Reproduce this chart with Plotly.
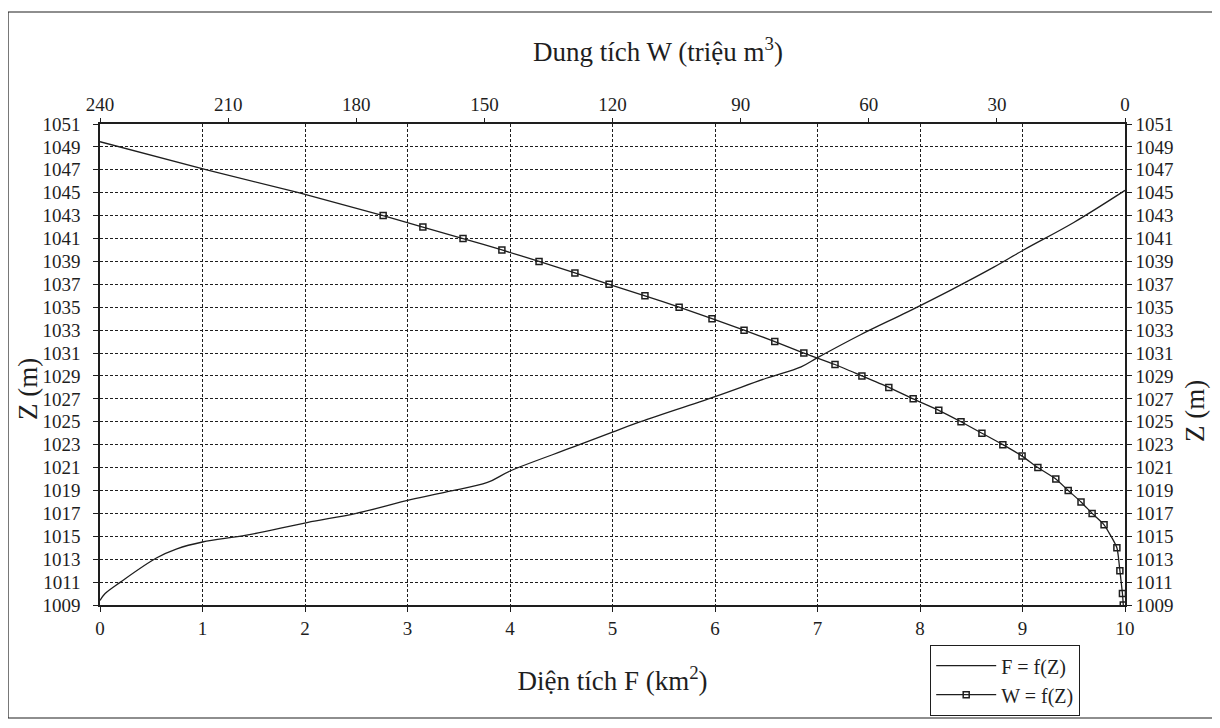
import plotly.graph_objects as go

# Đường đặc tính lòng hồ: diện tích F (km2) theo cao trình Z (m)
area_z = [1009.4, 1010.0, 1011.0, 1013.1, 1013.9, 1014.5, 1015.1, 1016.2, 1017.0,
          1018.2, 1018.9, 1019.7, 1020.7, 1022.8, 1024.1, 1024.9, 1027.2, 1028.8,
          1029.8, 1030.6, 1032.6, 1034.6, 1036.5, 1038.5, 1040.0, 1042.4, 1045.2]
area_f = [0.0, 0.05, 0.2, 0.55, 0.75, 1.0, 1.43, 2.02, 2.5,
          3.03, 3.39, 3.78, 4.0, 4.62, 5.0, 5.24, 6.0, 6.5,
          6.84, 7.0, 7.42, 7.88, 8.3, 8.72, 9.01, 9.5, 10.0]

# dung tích W (triệu m3) theo cao trình Z (m), các điểm có đánh dấu
vol_z = [1043, 1042, 1041, 1040, 1039, 1038, 1037, 1036, 1035, 1034, 1033, 1032,
         1031, 1030, 1029, 1028, 1027, 1026, 1025, 1024, 1023, 1022, 1021, 1020,
         1019, 1018, 1017, 1016, 1014, 1012, 1010, 1009]
vol_w = [173.7, 164.4, 155.0, 145.9, 137.2, 128.8, 120.8, 112.4, 104.4, 96.7, 89.2, 82.0,
         75.2, 67.9, 61.6, 55.3, 49.6, 43.6, 38.4, 33.5, 28.6, 24.1, 20.4, 16.2,
         13.3, 10.3, 7.7, 4.9, 1.9, 1.2, 0.6, 0.4]

# đoạn kéo dài phía trên (không đánh dấu)
ext_z = [1049.45, 1047.0, 1045.0, 1043.0]
ext_w = [240.0, 215.0, 193.5, 173.7]

z_ticks = list(range(1009, 1052, 2))

INK = "#1e1e1e"
FONT = "'Liberation Serif', 'Times New Roman', Times, serif"

fig = go.Figure()

fig.add_trace(go.Scatter(
    x=area_f, y=area_z, name="F = f(Z)", mode="lines",
    line=dict(color=INK, width=1.3, shape="spline", smoothing=1.0),
    xaxis="x", yaxis="y",
))
fig.add_trace(go.Scatter(
    x=ext_w, y=ext_z, mode="lines", showlegend=False, hoverinfo="skip",
    line=dict(color=INK, width=1.3),
    xaxis="x2", yaxis="y2",
))
fig.add_trace(go.Scatter(
    x=vol_w, y=vol_z, name="W = f(Z)", mode="lines+markers",
    line=dict(color=INK, width=1.3, shape="spline", smoothing=0.5),
    marker=dict(symbol="square-open", size=6, color=INK, line=dict(width=1.5, color=INK)),
    xaxis="x2", yaxis="y2",
))

grid = dict(showgrid=True, gridcolor=INK, gridwidth=1, griddash="3px,2px")
axis_line = dict(showline=True, linecolor=INK, linewidth=1.5, zeroline=False,
                 ticks="outside", ticklen=5, tickcolor=INK,
                 tickfont=dict(family=FONT, size=19, color=INK))
title_font = dict(family=FONT, size=27, color=INK)


# the page puts the figure 8px in from the corner; plot area on screen is x 100-1125, y 124-605
def px_x(px):
    return (px - 100) / 1025


def px_y(px):
    return (605 - px) / 481


def label(text, x, y, angle=0):
    return dict(text=text, xref="paper", yref="paper", x=px_x(x), y=px_y(y),
                xanchor="center", yanchor="middle", textangle=angle,
                showarrow=False, font=title_font)


fig.update_layout(
    width=1220, height=728,
    margin=dict(l=92, r=103, t=116, b=131, autoexpand=False),
    paper_bgcolor="white", plot_bgcolor="white",
    font=dict(family=FONT, color=INK),
    showlegend=True,
    legend=dict(
        x=px_x(930), y=px_y(645), xanchor="left", yanchor="top",
        bgcolor="white", bordercolor=INK, borderwidth=1.2,
        font=dict(family=FONT, size=20, color=INK),
        itemwidth=60, tracegroupgap=0,
    ),
    xaxis=dict(
        range=[0, 10], dtick=1, tick0=0, **grid, **axis_line,
        title=dict(text="Diện tích F (km<sup>2</sup>)", font=title_font, standoff=34),
    ),
    xaxis2=dict(
        range=[240, 0], dtick=30, tick0=0, overlaying="x", side="top", anchor="y2",
        showgrid=False, **{**axis_line, "ticklen": 4},
    ),
    yaxis=dict(range=[1009, 1051], tickvals=z_ticks, **grid, **axis_line, ticklabelstandoff=9),
    yaxis2=dict(
        range=[1009, 1051], tickvals=z_ticks, overlaying="y", side="right", anchor="x2",
        showgrid=False, **axis_line,
    ),
    annotations=[
        label("Dung tích W (triệu m<sup>3</sup>)", 658, 50),
        label("Z (m)", 28, 389, -90),
        label("Z (m)", 1195, 411, -90),
    ],
    shapes=[dict(
        type="rect", xref="paper", yref="paper",
        x0=px_x(8), x1=px_x(1215), y0=px_y(718), y1=px_y(12),
        line=dict(color=INK, width=1.2), layer="below",
    )],
)

fig.write_html("out.html")
